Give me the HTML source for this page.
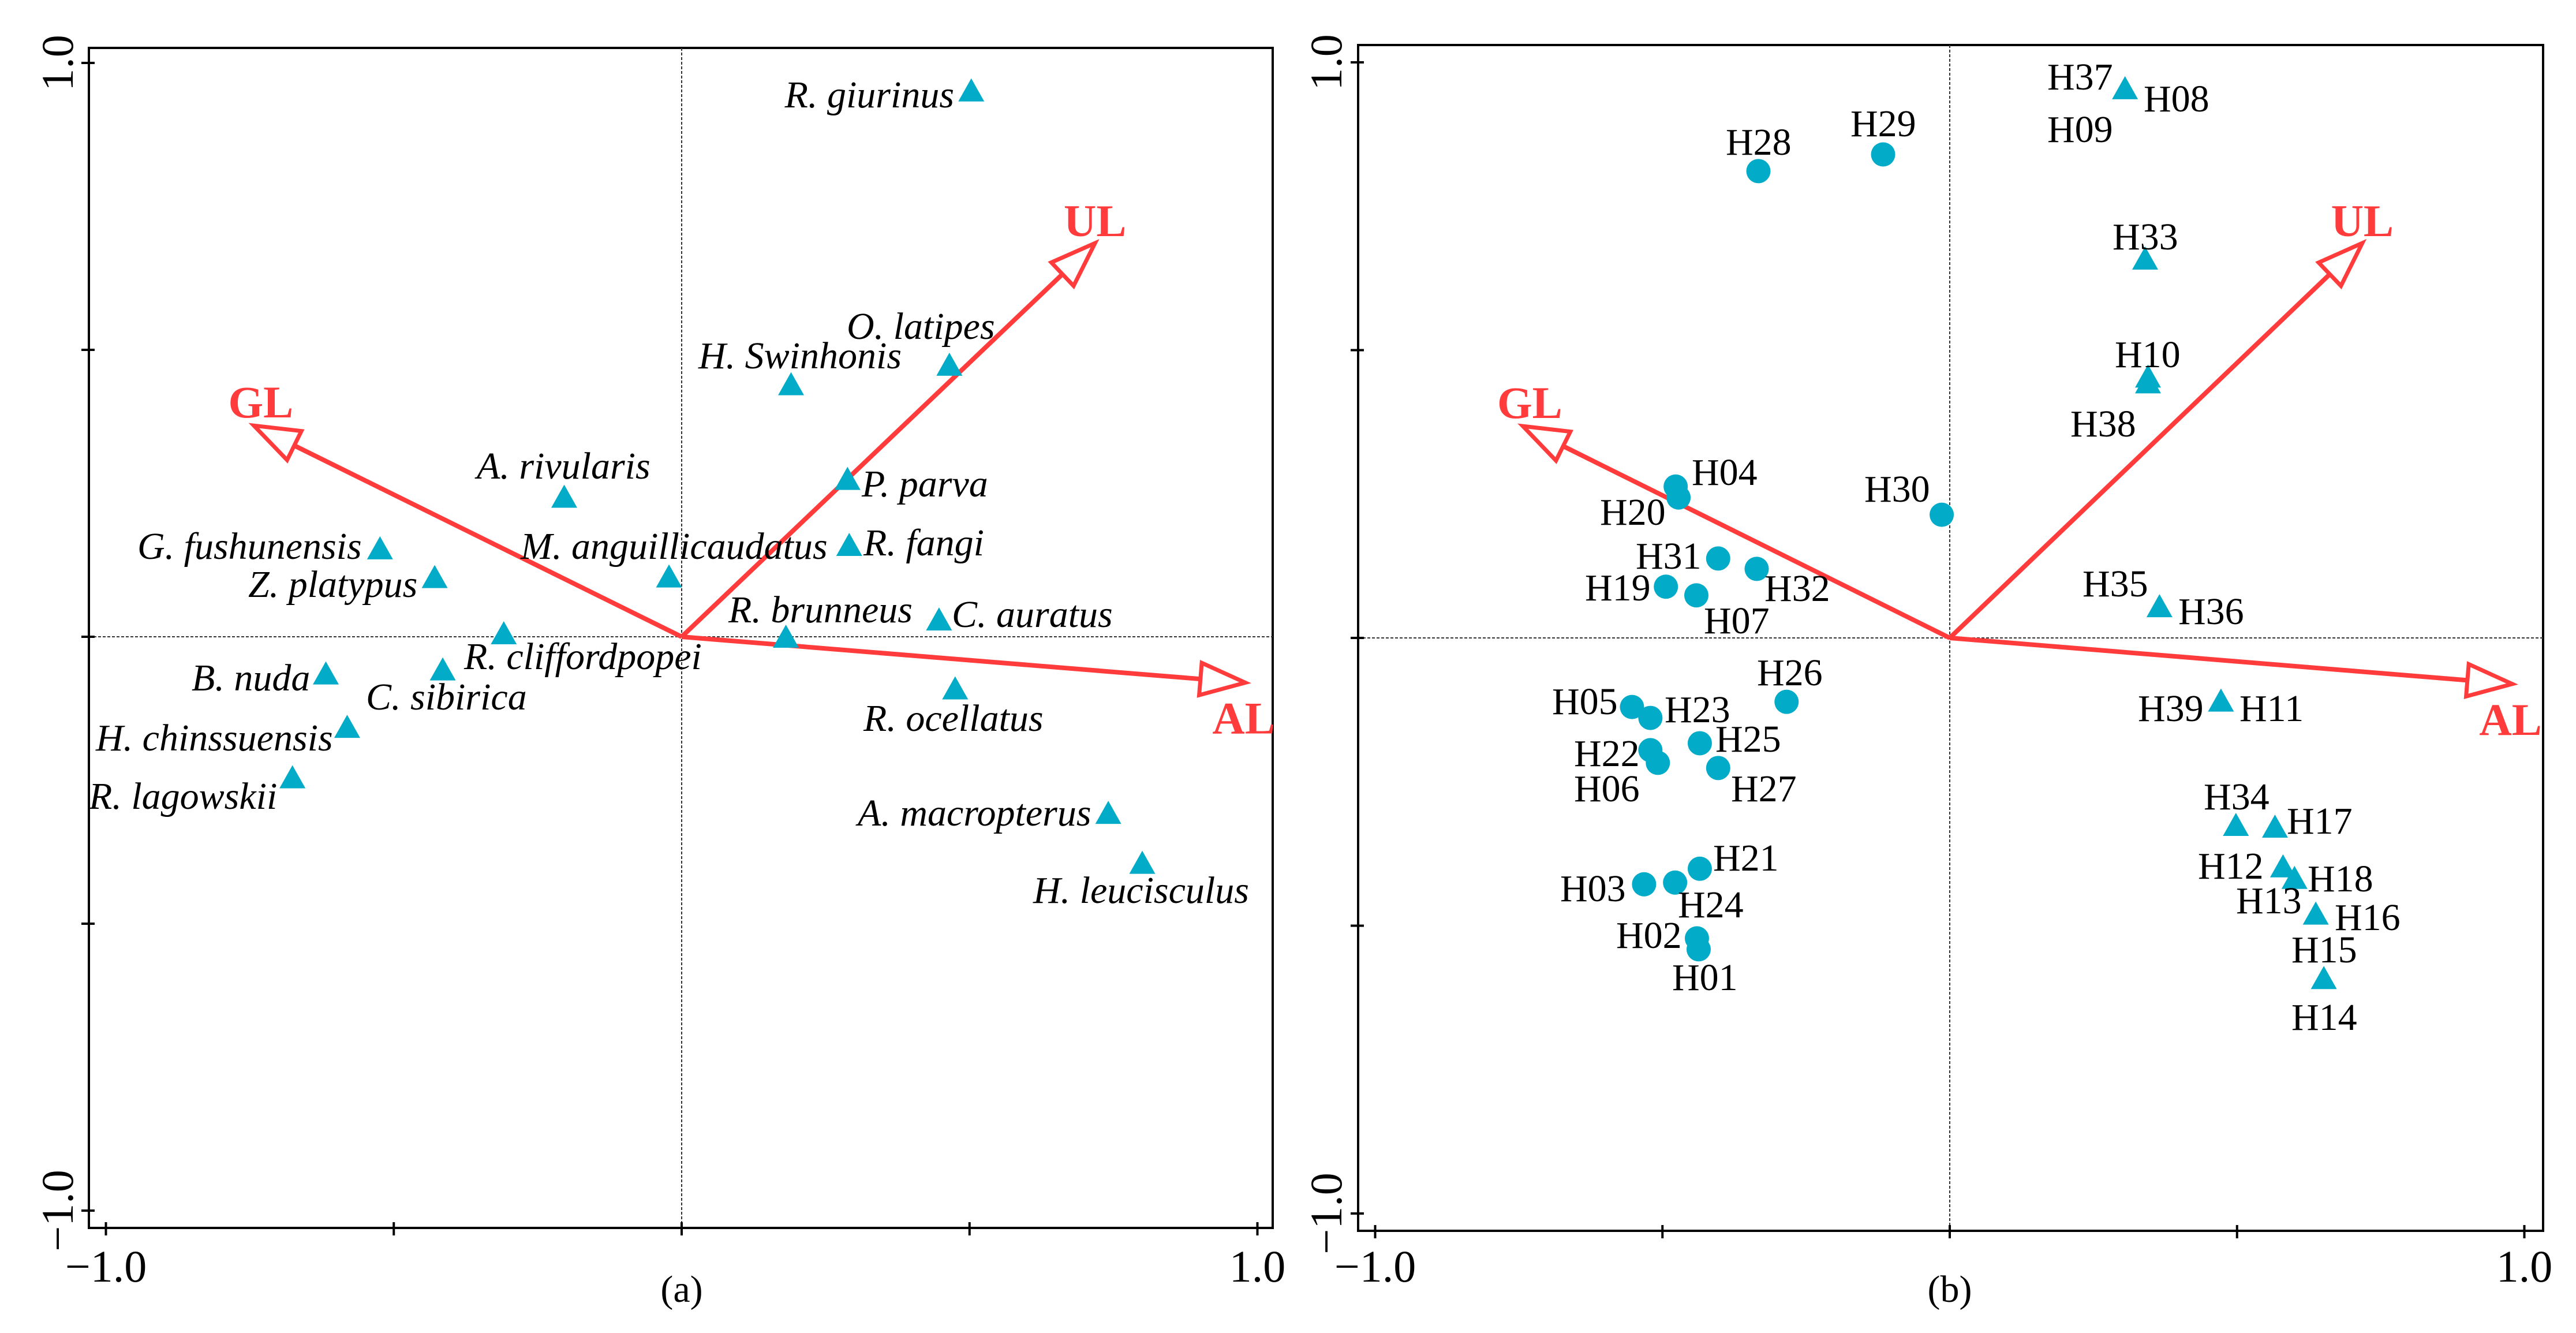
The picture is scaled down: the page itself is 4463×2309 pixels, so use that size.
<!DOCTYPE html>
<html><head><meta charset="utf-8"><style>
html,body{margin:0;padding:0;background:#fff;}
svg{display:block;}
svg text{font-family:"Liberation Serif",serif;}
</style></head><body>
<svg id="chart" width="4463" height="2309" viewBox="0 0 4463 2309" xmlns="http://www.w3.org/2000/svg" font-family="Liberation Serif, serif">
<rect width="4463" height="2309" fill="#fff"/>
</svg>
<script>
// ---- Panel (a): species ----
const speciesNames = ["R. giurinus","O. latipes","H. Swinhonis","P. parva","R. fangi","A. rivularis","G. fushunensis","Z. platypus","M. anguillicaudatus","R. cliffordpopei","R. brunneus","C. auratus","R. ocellatus","B. nuda","C. sibirica","H. chinssuensis","R. lagowskii","A. macropterus","H. leucisculus"];
const speciesX = [0.503,0.465,0.190,0.288,0.291,-0.204,-0.524,-0.429,-0.022,-0.309,0.181,0.447,0.475,-0.618,-0.415,-0.581,-0.676,0.741,0.800];
const speciesY = [0.953,0.475,0.441,0.276,0.161,0.245,0.155,0.105,0.106,0.007,0.001,0.031,-0.089,-0.063,-0.056,-0.156,-0.244,-0.306,-0.393];
const speciesLabelPos = [[1653,186,"end"],[1467,587,"start"],[1210,638,"start"],[1493,860,"start"],[1496,962,"start"],[826,829,"start"],[238,968,"start"],[430,1034,"start"],[902,968,"start"],[804,1159,"start"],[1262,1078,"start"],[1649,1086,"start"],[1496,1266,"start"],[332,1196,"start"],[634,1229,"start"],[166,1300,"start"],[154,1401,"start"],[1486,1430,"start"],[1790,1564,"start"]];

// ---- Panel (b): sites ----
const circleSites = ["H28","H29","H04","H20","H30","H31","H32","H19","H07","H26","H05","H23","H25","H22","H06","H27","H21","H03","H24","H02","H01"];
const circleX = [-0.333,-0.116,-0.477,-0.472,-0.014,-0.403,-0.336,-0.494,-0.441,-0.284,-0.553,-0.521,-0.435,-0.521,-0.508,-0.403,-0.435,-0.532,-0.478,-0.440,-0.437];
const circleY = [0.811,0.840,0.263,0.244,0.214,0.138,0.120,0.089,0.074,-0.111,-0.120,-0.139,-0.183,-0.195,-0.217,-0.226,-0.401,-0.428,-0.425,-0.522,-0.541];
const triSites = ["H37","H33","H10","H38","H35","H39","H34","H17","H12","H18","H13","H15"];
const triX = [0.305,0.340,0.345,0.345,0.365,0.472,0.498,0.566,0.580,0.600,0.637,0.651];
const triY = [0.956,0.660,0.455,0.445,0.056,-0.108,-0.324,-0.327,-0.396,-0.416,-0.478,-0.590];
const siteLabels = [["H37",3547,155],["H08",3714,193],["H09",3547,246],["H28",2990,268],["H29",3206,236],["H33",3660,432],["H10",3664,636],["H38",3587,756],["H04",2931,840],["H20",2772,909],["H30",3230,869],["H31",2834,985],["H32",3057,1041],["H19",2746,1040],["H07",2952,1097],["H35",3608,1033],["H36",3774,1081],["H26",3044,1187],["H05",2689,1237],["H23",2884,1251],["H39",3704,1249],["H11",3880,1249],["H25",2972,1302],["H22",2727,1327],["H06",2727,1388],["H27",2999,1388],["H34",3818,1402],["H17",3962,1444],["H21",2968,1508],["H03",2703,1561],["H12",3808,1522],["H18",3998,1544],["H24",2907,1589],["H13",3874,1582],["H16",4045,1611],["H02",2800,1642],["H15",3970,1667],["H01",2897,1715],["H14",3970,1784]];

// ---- Environmental vectors (shared) ----
const envNames = ["UL","GL","AL"];
const envX = [0.718,-0.743,0.979];
const envY = [0.686,0.368,-0.080];

const tickValues = [-1,-0.5,0,0.5,1];
const tickLabels = {"-1":"\u22121.0","1":"1.0"};

const NS="http://www.w3.org/2000/svg";
const svg=document.getElementById('chart');
const RED="#ff3b3b", TEAL="#02abc7", FONT="Liberation Serif, serif";
function mk(tag,attrs,parent){const e=document.createElementNS(NS,tag);for(const k in attrs)e.setAttribute(k,attrs[k]);if(tag==='text')e.setAttribute('font-family',FONT);(parent||svg).appendChild(e);return e;}

const panels=[
 {id:"a",x0:1181,ux:997.5,y0:1103,uy:994,left:154,top:83,right:2205,bottom:2127,cap:"(a)",ylabX:100},
 {id:"b",x0:3378,ux:995.5,y0:1105,uy:997,left:2353,top:78,right:4406,bottom:2132,cap:"(b)",ylabX:2298}
];
panels.forEach(p=>{p.sx=v=>p.x0+v*p.ux;p.sy=v=>p.y0-v*p.uy;});

panels.forEach(p=>{
  const g=mk('g',{});
  
  
  const fr=mk('rect',{x:p.left,y:p.top,width:p.right-p.left,height:p.bottom-p.top,fill:"none",stroke:"#000","stroke-width":4},g);
  
  
  const zh=mk('line',{x1:p.left,x2:p.right,y1:p.sy(0),y2:p.sy(0),stroke:"#333","stroke-width":2,"stroke-dasharray":"5,3"},g);
  
  
  const zv=mk('line',{x1:p.sx(0),x2:p.sx(0),y1:p.top,y2:p.bottom,stroke:"#333","stroke-width":2,"stroke-dasharray":"5,3"},g);
  
  
  tickValues.forEach(t=>{
    const tx=mk('line',{x1:p.sx(t),x2:p.sx(t),y1:p.bottom-10,y2:p.bottom+13,stroke:"#000","stroke-width":4},g);
    
    
    const ty=mk('line',{x1:p.left-13,x2:p.left+10,y1:p.sy(t),y2:p.sy(t),stroke:"#000","stroke-width":4},g);
    
    
    const lab=tickLabels[String(t)];
    if(lab){
      const xl=mk('text',{x:p.sx(t),y:2220,"font-size":78,"text-anchor":"middle",fill:"#000"},g);
      xl.textContent=lab;
      
      
      const yy=p.sy(t);
      const yl=mk('text',{x:0,y:0,"font-size":78,"text-anchor":"middle",fill:"#000",transform:`translate(${p.ylabX+26},${yy}) rotate(-90)`},g);
      yl.textContent=lab;
      
      
    }
  });
  const cap=mk('text',{x:p.sx(0),y:2255,"font-size":66,"text-anchor":"middle",fill:"#000"},g);
  cap.textContent=p.cap;
  
  
  envNames.forEach((n,i)=>{
    const ox=p.sx(0),oy=p.sy(0),tx=p.sx(envX[i]),ty=p.sy(envY[i]);
    const dx=tx-ox,dy=ty-oy,L=Math.hypot(dx,dy),ux=dx/L,uy=dy/L;
    const hl=78,hw=28;
    const bx=tx-ux*hl,by=ty-uy*hl;
    const ag=mk('g',{},g);
    
    
    mk('line',{x1:ox,y1:oy,x2:bx,y2:by,stroke:RED,"stroke-width":8},ag);
    mk('polygon',{points:`${tx},${ty} ${bx-uy*hw},${by+ux*hw} ${bx+uy*hw},${by-ux*hw}`,fill:"#fff",stroke:RED,"stroke-width":7,"stroke-linejoin":"miter"},ag);
    let lx,ly,anchor="middle";
    if(n==="UL"){lx=tx;ly=ty-12;}
    else if(n==="GL"){lx=tx+12;ly=ty-14;}
    else{lx=tx-3;ly=ty+88;}
    const t=mk('text',{x:lx,y:ly,"font-size":78,"font-weight":"bold","text-anchor":anchor,fill:RED},ag);
    t.textContent=n;
    
    
  });
});

function tri(cx,cy,name){
  const w=45,h=40;
  const e=mk('polygon',{points:`${cx},${cy-h/2} ${cx-w/2},${cy+h/2} ${cx+w/2},${cy+h/2}`,fill:TEAL});
  
  
}
const pa=panels[0],pb=panels[1];
speciesNames.forEach((n,i)=>{
  tri(pa.sx(speciesX[i]),pa.sy(speciesY[i]),'species-point');
  const lp=speciesLabelPos[i];
  const t=mk('text',{x:lp[0],y:lp[1],"font-size":66,"font-style":"italic","text-anchor":lp[2],fill:"#000"});
  t.textContent=n;
  
  
});
circleSites.forEach((n,i)=>{
  const c=mk('circle',{cx:pb.sx(circleX[i]),cy:pb.sy(circleY[i]),r:21,fill:TEAL});
  
  
});
triSites.forEach((n,i)=>{ tri(pb.sx(triX[i]),pb.sy(triY[i]),'site-point-triangle'); });
siteLabels.forEach(s=>{
  const t=mk('text',{x:s[1],y:s[2],"font-size":66,fill:"#000"});
  t.textContent=s[0];
  
  
});
</script>
</body></html>
